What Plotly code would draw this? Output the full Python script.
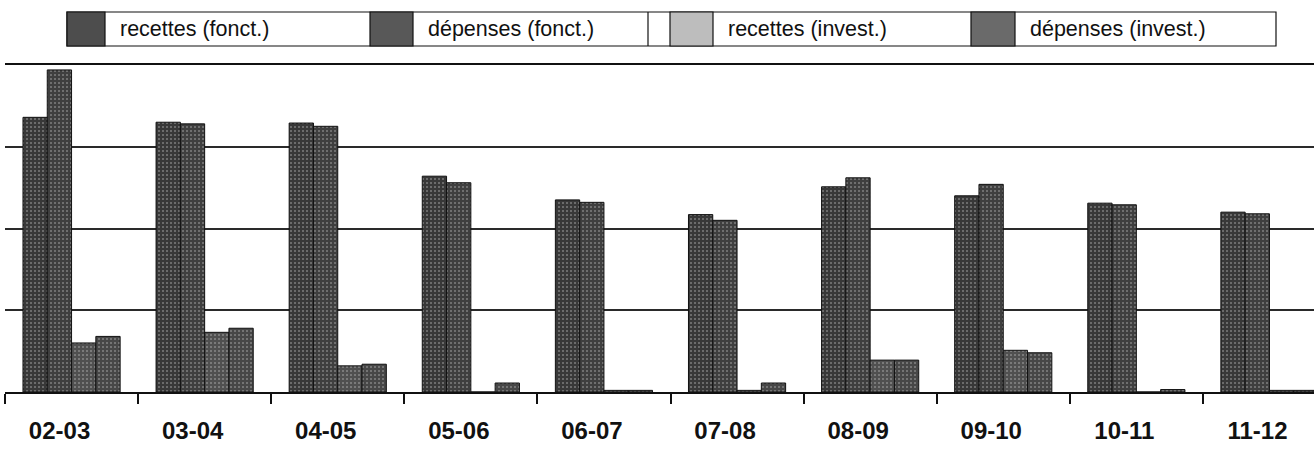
import plotly.graph_objects as go

# ---- data (unitless, one unit per gridline) ----
categories = ["02-03", "03-04", "04-05", "05-06", "06-07",
              "07-08", "08-09", "09-10", "10-11", "11-12"]
series_names = ["recettes (fonct.)", "dépenses (fonct.)",
                "recettes (invest.)", "dépenses (invest.)"]
recettes_fonct = [3.36, 3.30, 3.29, 2.64, 2.35, 2.17, 2.51, 2.40, 2.31, 2.20]
depenses_fonct = [3.94, 3.28, 3.25, 2.56, 2.32, 2.10, 2.62, 2.54, 2.29, 2.18]
recettes_invest = [0.60, 0.73, 0.32, 0.00, 0.02, 0.02, 0.39, 0.51, 0.00, 0.02]
depenses_invest = [0.68, 0.78, 0.34, 0.11, 0.02, 0.11, 0.39, 0.48, 0.03, 0.02]

# ---- styles ----
W, H = 1314, 470
ML, MR, MT, MB = 5, 0, 65, 78
PW, PH = W - ML - MR, H - MT - MB
bar_colors = ["#383838", "#3f3f3f", "#505050", "#474747"]
swatch_colors = ["#4d4d4d", "#585858", "#bdbdbd", "#6a6a6a"]
font_main = "Liberation Sans, Arial"


def px2x(px):
    return (px - ML) / PW


def px2y(py):
    return (H - MB - py) / PH


fig = go.Figure()
for name, vals, col in zip(series_names,
                           [recettes_fonct, depenses_fonct, recettes_invest, depenses_invest],
                           bar_colors):
    fig.add_trace(go.Bar(
        x=categories, y=vals, name=name, showlegend=False,
        marker=dict(color=col, line=dict(color="#111111", width=1),
                    pattern=dict(shape=".", fgcolor="#bfbfbf", bgcolor=col,
                                 size=4, solidity=0.2)),
    ))

# ---- hand-drawn legend box like the original ----
shapes = []
annotations = []
box_top, box_bot = 12, 46
shapes.append(dict(type="rect", xref="paper", yref="paper",
                   x0=px2x(67), x1=px2x(1276), y0=px2y(box_bot), y1=px2y(box_top),
                   line=dict(color="#111111", width=1.2), fillcolor="white", layer="above"))
swatch_px = [(67, 105), (370, 413), (670, 713), (971, 1015)]
for (a, b), col, name in zip(swatch_px, swatch_colors, series_names):
    shapes.append(dict(type="rect", xref="paper", yref="paper",
                       x0=px2x(a), x1=px2x(b), y0=px2y(box_bot), y1=px2y(box_top),
                       line=dict(color="#111111", width=1.2), fillcolor=col, layer="above"))
    annotations.append(dict(text=name, xref="paper", yref="paper",
                            x=px2x(b + 13), y=px2y((box_top + box_bot) / 2),
                            xanchor="left", yanchor="middle", showarrow=False,
                            font=dict(family=font_main, size=21.5, color="#111111")))
shapes.append(dict(type="line", xref="paper", yref="paper",
                   x0=px2x(648), x1=px2x(648), y0=px2y(box_bot), y1=px2y(box_top),
                   line=dict(color="#111111", width=1.2), layer="above"))

fig.update_layout(
    width=W, height=H,
    margin=dict(l=ML, r=MR, t=MT, b=MB, autoexpand=False),
    paper_bgcolor="white", plot_bgcolor="white",
    barmode="group", bargap=0.27, bargroupgap=0,
    shapes=shapes, annotations=annotations,
    showlegend=False,
)
fig.update_xaxes(
    type="category",
    range=[-0.5, -0.5 + PW / 133.1],
    showline=True, linecolor="#111111", linewidth=2, mirror=True,
    ticks="outside", tickson="boundaries", ticklen=10, tickwidth=1.5, tickcolor="#111111",
    ticklabelstandoff=16, ticklabelshift=-12,
    tickfont=dict(family=font_main, size=24, color="#111111", weight="bold"),
    showgrid=False,
)
fig.update_yaxes(
    range=[0, 4], dtick=1, showticklabels=False,
    showgrid=True, gridcolor="#2a2a2a", gridwidth=1.5,
    zeroline=False, showline=False,
)

fig.write_html("out.html", config={"displayModeBar": False},
               post_script="document.body.style.margin='0';document.body.style.padding='0';")
